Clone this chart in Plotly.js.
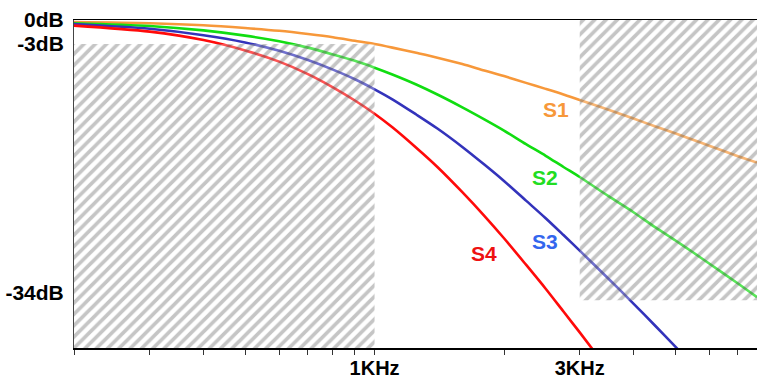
<!DOCTYPE html>
<html>
<head>
<meta charset="utf-8">
<script src="https://cdn.plot.ly/plotly-3.0.1.min.js"></script>
<style>html,body{margin:0;padding:0;background:#fff;}#chart{width:757px;height:380px;}</style>
</head>
<body>
<div id="chart"></div>
<script>
// Frequencies (Hz) at which the curves were read
const freq = [200, 300, 400, 500, 600, 700, 800, 900, 1000, 1100, 1250, 1400, 1600, 1800, 2000, 2250, 2500, 2750, 3000, 3500, 4000, 4500, 5000, 5500, 6000, 7000, 7750];
// Attenuation (dB)
const s1 = [-0.25, -0.4, -0.65, -1.0, -1.35, -1.75, -2.15, -2.6, -3.0, -3.45, -4.1, -4.7, -5.5, -6.3, -7.0, -7.85, -8.6, -9.3, -10.0, -11.2, -12.3, -13.3, -14.15, -14.95, -15.7, -17.0, -17.8];
const s2 = [-0.4, -0.75, -1.3, -1.95, -2.65, -3.45, -4.3, -5.1, -5.95, -6.8, -8.05, -9.3, -10.9, -12.4, -13.8, -15.5, -16.95, -18.35, -19.6, -22.0, -24.0, -25.9, -27.5, -29.0, -30.4, -32.9, -34.6];
const s3 = [-0.5, -1.1, -1.9, -2.8, -3.85, -5.0, -6.2, -7.4, -8.65, -9.9, -11.8, -13.55, -15.85, -18.05, -20.1, -22.55, -24.75, -26.85, -28.8, -32.3, -35.4, -38.2, -40.75, -43.05, -45.15, -48.9, -51.4];
const s4 = [-0.7, -1.45, -2.5, -3.8, -5.2, -6.75, -8.4, -10.05, -11.7, -13.4, -15.95, -18.35, -21.5, -24.45, -27.25, -30.55, -33.55, -36.4, -39.0, -43.75, -48.0, -51.75, -55.2, -58.3, -61.15, -66.3, -69.6];
const seriesNames = ['S1', 'S2', 'S3', 'S4'];
const lineColors = ['#f7983a', '#11dd11', '#3333bb', '#ff0a0a'];
const labelColors = ['#f7983a', '#22dd22', '#3366ee', '#ee1111'];
// Hatched zones: pass band (below -3 dB up to 1 kHz) and stop band (from 3 kHz, down to -35 dB)
const passFreq = [200, 1000];
const passDb = [-3, -60];
const stopFreq = [3000, 9000];
const stopDb = [0, -35];
// Axis ticks
const xTickVals = [200, 300, 400, 500, 600, 700, 800, 900, 1000, 2000, 3000, 4000, 5000, 6000, 7000];
const xTickText = ['', '', '', '', '', '', '', '', '1KHz', '', '3KHz', '', '', '', ''];
const yTickVals = [0, -3, -34];
const yTickText = ['0dB', '-3dB', '-34dB'];
// Label anchor positions (Hz, dB)
const labelFreq = [2638, 2488, 2488, 1798];
const labelDb = [-11.2, -19.7, -27.6, -29.2];

function rect(fr, db) {
  return {x: [fr[0], fr[1], fr[1], fr[0], fr[0]], y: [db[0], db[0], db[1], db[1], db[0]]};
}

const ys = [s1, s2, s3, s4];
const traces = ys.map((y, i) => ({
  type: 'scatter', mode: 'lines', x: freq, y: y, name: seriesNames[i],
  line: {color: lineColors[i], width: 2.6, shape: 'spline', smoothing: 0.8}, hoverinfo: 'skip'
}));

const hatch = {shape: '/', size: 8, solidity: 0.45, fgcolor: 'rgba(60,60,60,0.6)', bgcolor: 'rgba(255,255,255,0.3)', fillmode: 'overlay'};
[rect(passFreq, passDb), rect(stopFreq, stopDb)].forEach(r => {
  traces.push({type: 'scatter', mode: 'lines', x: r.x, y: r.y, fill: 'toself',
    fillcolor: 'rgba(255,255,255,0)', fillpattern: hatch, line: {width: 0}, hoverinfo: 'skip'});
});

const fam = 'Liberation Sans, Arial, sans-serif';
const annotations = seriesNames.map((n, i) => ({
  x: Math.log10(labelFreq[i]), y: labelDb[i], xref: 'x', yref: 'y', text: n, showarrow: false,
  font: {family: fam, size: 21, weight: 'bold', color: labelColors[i]}, xanchor: 'center', yanchor: 'middle'
}));

const layout = {
  width: 757, height: 380,
  margin: {l: 74, r: 0, t: 20, b: 32},
  paper_bgcolor: '#ffffff', plot_bgcolor: '#ffffff',
  showlegend: false,
  xaxis: {
    type: 'log', range: [Math.log10(200), Math.log10(200) + 683 / 430],
    tickmode: 'array', tickvals: xTickVals, ticktext: xTickText,
    ticks: 'outside', ticklen: 5, tickwidth: 1, tickcolor: '#333',
    showgrid: false, zeroline: false, showline: true, linecolor: '#000', linewidth: 1.5,
    mirror: true, ticklabelstandoff: -4,
    tickfont: {family: fam, size: 20, weight: 'bold', color: '#000'}
  },
  yaxis: {
    range: [-40.95, 0], tickmode: 'array', tickvals: yTickVals, ticktext: yTickText,
    ticks: '', showgrid: false, zeroline: false, showline: true, linecolor: '#444', linewidth: 1,
    ticklabelstandoff: 5,
    tickfont: {family: fam, size: 21, weight: 'bold', color: '#000'}
  },
  annotations: annotations
};

Plotly.newPlot('chart', traces, layout, {displayModeBar: false, staticPlot: true});
</script>
</body>
</html>
